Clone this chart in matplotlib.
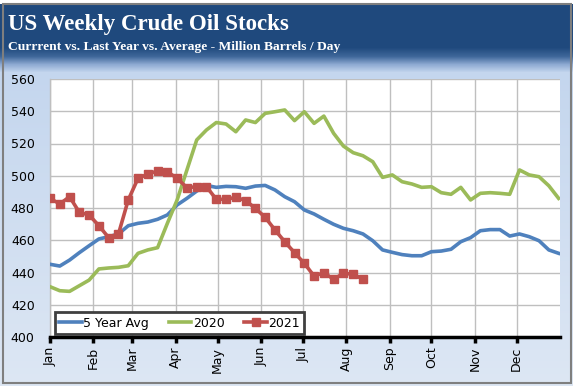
import numpy as np
import matplotlib
matplotlib.use("Agg")
import matplotlib.pyplot as plt
from matplotlib.patches import Rectangle

# weekly values, one per week starting Jan 1
avg5 = [445.1, 444.0, 447.7, 452.3, 456.6, 460.8, 462.2, 463.9, 469.0, 470.5,
        471.3, 473.0, 475.7, 481.9, 486.0, 490.5, 494.0, 492.8, 493.4, 493.2,
        492.2, 493.6, 494.0, 491.2, 487.0, 483.9, 478.8, 476.3, 473.0, 469.9,
        467.4, 465.9, 463.9, 459.7, 454.0, 452.5, 451.1, 450.4, 450.4, 452.9,
        453.3, 454.4, 459.1, 461.6, 465.9, 466.6, 466.6, 462.6, 463.9, 462.2,
        459.7, 454.0, 451.9]
y2020 = [431.2, 428.7, 428.3, 431.8, 435.3, 442.2, 442.8, 443.2, 444.2, 451.9,
         454.0, 455.4, 470.5, 485.0, 503.6, 522.2, 528.4, 533.0, 532.1, 527.3,
         534.6, 533.0, 538.7, 539.7, 540.8, 534.2, 539.7, 532.5, 537.0, 526.3,
         518.4, 514.3, 512.4, 508.7, 499.0, 500.5, 496.3, 494.9, 492.8, 493.2,
         489.5, 488.5, 492.8, 485.0, 489.1, 489.5, 489.1, 488.5, 503.6, 500.5,
         499.4, 493.8, 486.0]
y2021 = [486.0, 482.5, 487.0, 477.3, 475.7, 469.0, 461.6, 463.9, 485.0, 498.4,
         501.0, 503.0, 502.5, 498.4, 492.6, 493.2, 493.2, 485.4, 485.4, 486.6,
         484.6, 479.8, 474.2, 466.4, 459.1, 452.3, 445.7, 437.8, 439.9, 435.8,
         439.5, 438.9, 435.8]

month_start = [0, 31, 59, 90, 120, 151, 181, 212, 243, 273, 304, 334]
month_labels = ["Jan", "Feb", "Mar", "Apr", "May", "Jun",
                "Jul", "Aug", "Sep", "Oct", "Nov", "Dec"]
y_ticks = [400, 420, 440, 460, 480, 500, 520, 540, 560]

W, H = 573, 386
fig = plt.figure(figsize=(W / 100, H / 100), dpi=100)

# background: dark header fading into light blue panel
bg = fig.add_axes([0, 0, 1, 1], zorder=-5)
bg.set_xlim(0, W)
bg.set_ylim(H, 0)
bg.axis("off")
stops_y = [0, 4, 47, 56, 64, 72, 386]
stops_c = ["#ffffff", "#1f497d", "#1f497d", "#3f679a", "#8eaad2", "#c4d6ee", "#dde7f4"]
rgb = np.array([matplotlib.colors.to_rgb(c) for c in stops_c])
rows = np.arange(H)
grad = np.stack([np.interp(rows, stops_y, rgb[:, i]) for i in range(3)], axis=1)
grad[:4] = 1.0
bg.imshow(grad[:, None, :], extent=[0, W, H, 0], aspect="auto")
bg.add_patch(Rectangle((3, 4), 568, 379, fill=False, edgecolor="#7f7f7f", lw=1.5))

fig.text(8 / W, 1 - 30 / H, "US Weekly Crude Oil Stocks", color="white",
         fontsize=16.5, fontweight="bold", family="Liberation Serif", va="baseline")
fig.text(8 / W, 1 - 50 / H, "Currrent vs. Last Year vs. Average - Million Barrels / Day",
         color="white", fontsize=9.7, fontweight="bold", family="Liberation Serif",
         va="baseline")

ax = fig.add_axes([50 / W, 49 / H, 510 / W, 258 / H])
ax.set_facecolor("white")

days = lambda vals: np.arange(len(vals)) * 7
ax.plot(days(avg5), avg5, color="#4f81bd", lw=2.6, label="5 Year Avg", zorder=3)
ax.plot(days(y2020), y2020, color="#9bbb59", lw=2.6, label="2020", zorder=3)
ax.plot(days(y2021), y2021, color="#c0504d", lw=2.6, marker="s", markersize=6,
        label="2021", zorder=4)

ax.set_xlim(0, 365)
ax.set_ylim(400, 560)
ax.set_xticks(month_start)
ax.set_xticklabels(month_labels, rotation=90, fontsize=9, family="DejaVu Sans")
ax.set_yticks(y_ticks)
ax.set_yticklabels([str(v) for v in y_ticks], fontsize=9, family="DejaVu Sans")
ax.tick_params(axis="x", direction="out", length=4, width=2.5, color="black", pad=3)
ax.tick_params(axis="y", length=0, pad=11)
ax.grid(True, color="#bfbfbf", lw=1)
ax.set_axisbelow(True)
for s in ["top", "right"]:
    ax.spines[s].set_visible(False)
ax.spines["left"].set_color("#bfbfbf")
ax.spines["left"].set_linewidth(1)
ax.spines["bottom"].set_color("black")
ax.spines["bottom"].set_linewidth(2.5)

leg = ax.legend(loc="lower left", bbox_to_anchor=(0.01, 0.012), borderaxespad=0,
                ncol=3, fancybox=False, handlelength=1.8,
                handletextpad=0.1, columnspacing=1.6, borderpad=0.35,
                prop={"family": "DejaVu Sans", "size": 9})
leg.get_frame().set_edgecolor("#404040")
leg.get_frame().set_linewidth(2)
leg.get_frame().set_alpha(1)

fig.savefig("out.png", dpi=100)
